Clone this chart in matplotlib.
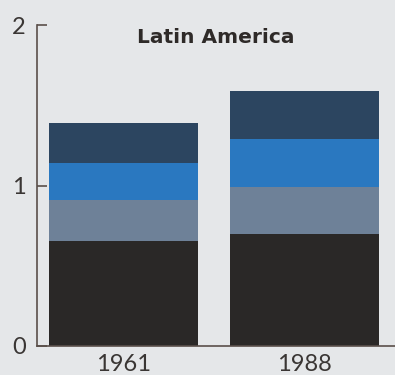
import matplotlib
matplotlib.use("Agg")
import matplotlib.pyplot as plt
import numpy as np

years = ["1961", "1988"]
black_seg = [0.656, 0.70]
gray_seg = [0.254, 0.29]
blue_seg = [0.23, 0.30]
navy_seg = [0.25, 0.30]
yticks = [0, 1, 2]
title = "Latin America"

colors = ["#2a2827", "#6e8198", "#2a78c0", "#2c4560"]
bg = "#e5e7e9"
txt = "#3a3634"

fig = plt.figure(figsize=(3.95, 3.75), dpi=100, facecolor=bg)
ax = fig.add_axes([37/395, 29/375, 1 - 37/395, 321/375])
ax.set_facecolor(bg)

x = np.arange(len(years))
bottom = np.zeros(len(years))
for seg, c in zip([black_seg, gray_seg, blue_seg, navy_seg], colors):
    ax.bar(x, seg, bottom=bottom, width=0.818, color=c, linewidth=0)
    bottom += np.array(seg)

ax.set_xlim(-0.478, 1.5)
ax.set_ylim(0, 2)
ax.set_yticks(yticks)
ax.set_yticklabels([str(t) for t in yticks], fontsize=17, color=txt,
                   family=["Lato", "DejaVu Sans"], fontweight="normal")
ax.set_xticks(x)
ax.set_xticklabels(years, fontsize=17, color=txt,
                   family=["Lato", "DejaVu Sans"], fontweight="normal")
ax.tick_params(axis="y", direction="in", length=7, width=1.2, color="#5a4f4a", pad=8)
ax.tick_params(axis="x", length=0, pad=6)
for s in ["top", "right"]:
    ax.spines[s].set_visible(False)
for s in ["left", "bottom"]:
    ax.spines[s].set_color("#5a4f4a")
    ax.spines[s].set_linewidth(1.2)

ax.text(0.5, 0.96, title, transform=ax.transAxes, ha="center", va="center",
        fontsize=14.5, fontweight="bold", color="#2e2a28", family="DejaVu Sans")

fig.savefig("out.png", dpi=100, facecolor=bg)
